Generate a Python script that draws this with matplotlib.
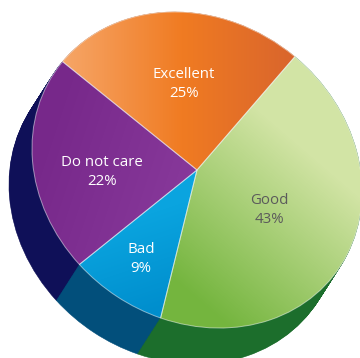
import numpy as np
import matplotlib
matplotlib.use("Agg")
import matplotlib.pyplot as plt
from matplotlib.colors import LinearSegmentedColormap
from matplotlib.transforms import Affine2D

# data
labels = ["Excellent", "Do not care", "Bad", "Good"]
values = [25, 22, 9, 43]
label_colors = ["white", "white", "white", "#5b5b5b"]
shadow_colors = ["#b5561c", "#0f1058", "#024f7b", "#1c6e2c"]

# gradient stops and their pixel start/end points for each top slice
grad_colors = [
    ["#f6a566", "#f07b22", "#d8642d"],
    ["#77288a", "#88399b"],
    ["#0aa4df", "#008ecd"],
    ["#74b53e", "#d2e4a5"],
]
grad_pts = [
    ((65, 100), (300, 100)),
    ((40, 150), (190, 200)),
    ((130, 220), (160, 310)),
    ((185, 290), (305, 150)),
]
label_pos = [(184, 84), (102, 172), (141, 259), (269, 210)]

W, H = 360, 358
CX, CY = 197, 170          # pie centre (pixels, from top)
A, B, TILT = 172.7, 149.6, -36.2   # tilted ellipse of the top face
OFF = (-23, 36)            # depth offset of the side (pixels)
start = 86

fig = plt.figure(figsize=(W / 100, H / 100), dpi=100)
ax = fig.add_axes([0, 0, 1, 1])
ax.axis("off")

def face(dx, dy):
    return (Affine2D().scale(A, B).rotate_deg(TILT)
            .translate(CX + dx, H - (CY + dy)) + ax.transData)

# extruded side: many shifted copies, far to near
for t in np.linspace(1, 0, 45):
    w, _ = ax.pie(values, colors=shadow_colors, startangle=start, radius=1,
                  counterclock=True, normalize=True,
                  wedgeprops=dict(linewidth=0.4, zorder=1))
    for ww in w:
        ww.set_edgecolor(ww.get_facecolor())
        ww.set_transform(face(t * OFF[0], t * OFF[1]))

# top face
wedges, _ = ax.pie(values, colors=["none"] * len(values), startangle=start,
                   radius=1, counterclock=True, normalize=True,
                   wedgeprops=dict(linewidth=0.7, edgecolor=(1, 1, 1, 0.5),
                                   zorder=3))
for wdg in wedges:
    wdg.set_transform(face(0, 0))

PX, PY = np.meshgrid(np.arange(W) + 0.5, np.arange(H) + 0.5)
for wdg, cols, (p0, p1) in zip(wedges, grad_colors, grad_pts):
    d = np.array(p1, float) - np.array(p0, float)
    s = ((PX - p0[0]) * d[0] + (PY - p0[1]) * d[1]) / (d @ d)
    s = np.clip(s, 0, 1)
    cmap = LinearSegmentedColormap.from_list("g", cols)
    im = ax.imshow(s, cmap=cmap, vmin=0, vmax=1, origin="upper",
                   extent=(0, W, 0, H), interpolation="bilinear", zorder=2)
    im.set_clip_path(wdg)

for lab, v, col, (px, py) in zip(labels, values, label_colors, label_pos):
    ax.text(px, H - py, f"{lab}\n{v}%", ha="center", va="center", color=col,
            fontsize=10.8, family="Open Sans", linespacing=1.3, zorder=10)

ax.set_aspect("auto")
ax.set_xlim(0, W)
ax.set_ylim(0, H)
fig.savefig("out.png", dpi=100)
